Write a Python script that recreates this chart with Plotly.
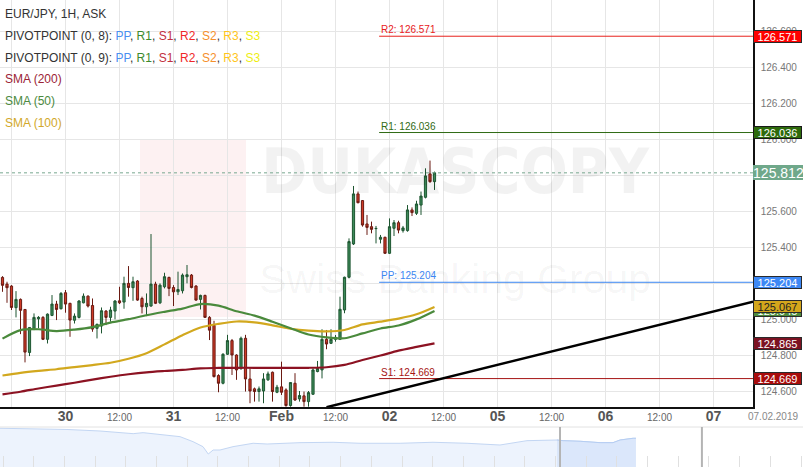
import plotly.graph_objects as go

# ---------------- DATA ----------------
# 1H EUR/JPY candles, x = hours from 30 Jan 00:00
candle_hours = list(range(-14, 83))
opens = [125.231, 125.194, 125.183, 125.063, 125.109, 125.053, 124.814, 124.948, 125.001, 125.009,
         124.887, 125.020, 125.083, 125.057, 125.146, 125.087, 124.993, 125.009, 125.090, 125.127,
         125.075, 124.948, 124.961, 125.044, 125.009, 125.044, 125.101, 125.094, 125.198, 125.174,
         125.211, 125.114, 125.068, 125.072, 125.194, 125.090, 125.179, 125.231, 125.175, 125.151,
         125.157, 125.235, 125.244, 125.183, 125.109, 125.131, 125.009, 124.965, 124.686, 124.643,
         124.804, 124.880, 124.800, 124.726, 124.893, 124.667, 124.612, 124.597, 124.600, 124.662,
         124.704, 124.593, 124.623, 124.606, 124.519, 124.643, 124.556, 124.573, 124.541, 124.582,
         124.708, 124.717, 124.887, 124.865, 124.887, 124.887, 125.050, 125.232, 125.417, 125.695,
         125.658, 125.528, 125.513, 125.502, 125.443, 125.454, 125.365, 125.504, 125.535, 125.491,
         125.491, 125.606, 125.587, 125.633, 125.676, 125.806, 125.763]
highs = [125.238, 125.207, 125.188, 125.155, 125.114, 125.053, 124.953, 125.031, 125.016, 125.016,
         125.031, 125.133, 125.101, 125.150, 125.161, 125.090, 125.031, 125.105, 125.142, 125.131,
         125.114, 124.975, 125.064, 125.050, 125.068, 125.105, 125.179, 125.235, 125.294, 125.235,
         125.216, 125.124, 125.142, 125.472, 125.207, 125.198, 125.257, 125.235, 125.188, 125.263,
         125.253, 125.300, 125.250, 125.188, 125.135, 125.135, 125.016, 124.990, 124.693, 124.810,
         124.912, 124.889, 124.804, 124.902, 124.912, 124.726, 124.619, 124.625, 124.699, 124.708,
         124.708, 124.634, 124.763, 124.615, 124.647, 124.699, 124.600, 124.597, 124.600, 124.726,
         124.767, 124.943, 124.939, 124.943, 124.911, 125.124, 125.235, 125.448, 125.739, 125.708,
         125.661, 125.578, 125.541, 125.517, 125.467, 125.457, 125.559, 125.550, 125.546, 125.517,
         125.633, 125.620, 125.657, 125.708, 125.837, 125.880, 125.819]
lows = [125.151, 125.090, 125.050, 125.009, 124.916, 124.759, 124.794, 124.938, 124.948, 124.883,
        124.864, 125.016, 124.994, 125.053, 125.035, 124.901, 124.975, 125.003, 125.087, 125.064,
        124.929, 124.892, 124.920, 124.966, 124.985, 124.998, 125.083, 125.057, 125.124, 125.101,
        125.101, 125.031, 125.016, 125.068, 125.083, 125.083, 125.170, 125.127, 125.072, 125.133,
        125.142, 125.198, 125.170, 125.101, 125.053, 125.009, 124.883, 124.675, 124.593, 124.637,
        124.800, 124.689, 124.662, 124.717, 124.597, 124.532, 124.541, 124.541, 124.532, 124.656,
        124.541, 124.588, 124.578, 124.513, 124.513, 124.545, 124.541, 124.513, 124.513, 124.578,
        124.704, 124.670, 124.832, 124.861, 124.874, 124.883, 125.032, 125.226, 125.411, 125.643,
        125.513, 125.467, 125.476, 125.420, 125.420, 125.361, 125.361, 125.461, 125.476, 125.480,
        125.485, 125.572, 125.578, 125.578, 125.670, 125.757, 125.717]
closes = [125.187, 125.174, 125.064, 125.109, 125.048, 124.816, 124.953, 125.009, 125.009, 124.887,
          125.027, 125.083, 125.053, 125.142, 125.083, 124.994, 125.016, 125.100, 125.127, 125.072,
          124.944, 124.970, 125.046, 125.009, 125.050, 125.100, 125.090, 125.198, 125.175, 125.207,
          125.105, 125.068, 125.087, 125.194, 125.087, 125.188, 125.235, 125.170, 125.151, 125.164,
          125.244, 125.246, 125.175, 125.105, 125.131, 125.009, 124.938, 124.680, 124.643, 124.804,
          124.880, 124.800, 124.717, 124.893, 124.667, 124.600, 124.597, 124.612, 124.667, 124.695,
          124.597, 124.621, 124.593, 124.519, 124.647, 124.550, 124.575, 124.541, 124.591, 124.717,
          124.726, 124.887, 124.861, 124.887, 124.898, 125.054, 125.232, 125.430, 125.695, 125.646,
          125.522, 125.509, 125.498, 125.503, 125.454, 125.365, 125.513, 125.535, 125.494, 125.506,
          125.606, 125.591, 125.639, 125.683, 125.795, 125.763, 125.812]

# moving averages, sampled every 4 hours
sma_hours = list(range(-14, 83, 4))
sma200 = [124.581, 124.596, 124.614, 124.630, 124.646, 124.663, 124.679, 124.693, 124.704, 124.711,
          124.717, 124.726, 124.728, 124.729, 124.729, 124.729, 124.729, 124.729, 124.732, 124.745,
          124.772, 124.797, 124.824, 124.845, 124.865]
sma50 = [124.891, 124.938, 124.943, 124.933, 124.941, 124.955, 124.980, 124.999, 125.021, 125.040,
         125.058, 125.083, 125.074, 125.043, 125.019, 124.985, 124.949, 124.914, 124.898, 124.893,
         124.920, 124.947, 124.964, 124.998, 125.045]
sma100 = [124.686, 124.701, 124.712, 124.721, 124.733, 124.744, 124.757, 124.779, 124.810, 124.859,
          124.910, 124.953, 124.973, 124.986, 124.981, 124.965, 124.946, 124.935, 124.931, 124.939,
          124.970, 124.985, 125.002, 125.026, 125.067]

# pivot points of the new session
pivot_start_hour = 69.7
pivot_names = ["R2", "R1", "PP", "S1"]
pivot_values = [126.571, 126.036, 125.204, 124.669]
pivot_colors = ["#e8201c", "#2f6a14", "#3b86f2", "#a51414"]

last_price = 125.812
trend_hours = [58.0, 152.8]
trend_values = [124.51, 125.096]

x_tick_hours = [-12, 0, 12, 24, 36, 48, 60, 72, 84, 96, 108, 120, 132, 144]
x_tick_labels = ["12:00", "30", "12:00", "31", "12:00", "Feb", "12:00", "02",
                 "12:00", "05", "12:00", "06", "12:00", "07"]
y_ticks = [124.6, 124.8, 125.0, 125.2, 125.4, 125.6, 125.8, 126.0, 126.2, 126.4, 126.6]

# navigator (longer history), x = days from 30 Jan
nav_days = [-28.20, -25.73, -24.90, -23.27, -21.64, -21.15, -19.97, -19.33, -18.69, -18.20,
            -17.94, -17.70, -17.36, -16.72, -15.73, -15.04, -13.42, -11.79, -10.46, -8.49,
            -6.87, -5.19, -3.57, -3.07, -2.24, -0.76, -0.46, 0.38, 1.36, 2.00, 2.35, 2.99, 3.13]
nav_values = [127.76, 127.70, 127.58, 127.35, 126.95, 127.10, 126.75, 126.50, 125.75, 125.00,
              123.90, 124.50, 124.50, 125.00, 125.51, 125.40, 125.60, 125.66, 125.51, 125.51,
              125.66, 125.51, 125.25, 125.51, 125.90, 126.00, 125.90, 125.81, 125.60, 125.60,
              126.00, 126.26, 126.26]
nav_window = [-0.61, 6.38]

# ---------------- FIGURE ----------------
W, H = 803, 467
px_right = 753
px_bottom = 407
x_dom_right = px_right / W
y_dom_bottom = (H - px_bottom) / H
nav_dom_top = 40 / H
x_range = [-65.5 / 4.5, (px_right - 65.5) / 4.5]
y_range = [126.4 - (px_bottom - 67) / 180, 126.4 + 67 / 180]

fig = go.Figure()

# faint watermark (semi-transparent so that marks show through)
fig.add_trace(go.Scatter(x=[86.6], y=[125.785], mode="text", text=["DUKASCOPY"],
                         textfont=dict(family="DejaVu Sans Condensed, DejaVu Sans", size=62,
                                       color="rgba(0,0,0,0.05)", weight="bold"),
                         hoverinfo="skip", xaxis="x", yaxis="y"))
fig.add_trace(go.Scatter(x=[86.6], y=[125.20], mode="text", text=["Swiss Banking Group"],
                         textfont=dict(family="Liberation Sans, Arial", size=41,
                                       color="rgba(0,0,0,0.045)"),
                         hoverinfo="skip", xaxis="x", yaxis="y"))

fig.add_trace(go.Candlestick(
    x=candle_hours, open=opens, high=highs, low=lows, close=closes,
    increasing=dict(line=dict(color="#1d5530", width=1), fillcolor="#3d8a5a"),
    decreasing=dict(line=dict(color="#6a1a12", width=1), fillcolor="#cf3a26"),
    whiskerwidth=0, hoverinfo="skip", xaxis="x", yaxis="y"))

for vals, col in [(sma200, "#8c1222"), (sma100, "#d2a81e"), (sma50, "#4a8a3c")]:
    fig.add_trace(go.Scatter(x=sma_hours, y=vals, mode="lines",
                             line=dict(color=col, width=2.2, shape="spline", smoothing=0.8),
                             hoverinfo="skip", xaxis="x", yaxis="y"))

# current price dashed line
fig.add_trace(go.Scatter(x=[x_range[0], x_range[1]], y=[last_price, last_price], mode="lines",
                         line=dict(color="#78a890", width=1, dash="3px,3px"),
                         hoverinfo="skip", xaxis="x", yaxis="y"))

# pivot lines
for name, val, col in zip(pivot_names, pivot_values, pivot_colors):
    fig.add_trace(go.Scatter(x=[pivot_start_hour, x_range[1]], y=[val, val], mode="lines",
                             line=dict(color=col, width=1), hoverinfo="skip", xaxis="x", yaxis="y"))

# trend line
fig.add_trace(go.Scatter(x=trend_hours, y=trend_values, mode="lines",
                         line=dict(color="#000000", width=2.5), hoverinfo="skip",
                         xaxis="x", yaxis="y", cliponaxis=True))

# navigator
fig.add_trace(go.Scatter(x=nav_days, y=nav_values, mode="lines", fill="tozeroy",
                         fillcolor="#edf3fd", line=dict(color="#c3d6f3", width=1),
                         hoverinfo="skip", xaxis="x2", yaxis="y2"))
sel_d = [d for d in nav_days if d >= nav_window[0] - 0.2]
sel_v = nav_values[len(nav_days) - len(sel_d):]
fig.add_trace(go.Scatter(x=sel_d, y=sel_v, mode="lines", fill="tozeroy",
                         fillcolor="#dbe7fb", line=dict(color="#b5cdf2", width=1),
                         hoverinfo="skip", xaxis="x2", yaxis="y2"))

annotations = []
# header legend
hdr_font = dict(family="Liberation Sans, Arial", size=12, color="#333")
pivot_txt = ("<span style='color:#4a8ff0'>PP</span>, <span style='color:#3c8a2c'>R1</span>, "
             "<span style='color:#c23040'>S1</span>, <span style='color:#f02828'>R2</span>, "
             "<span style='color:#f5902c'>S2</span>, <span style='color:#ffc51a'>R3</span>, "
             "<span style='color:#eeee10'>S3</span>")
header = [
    ("EUR/JPY, 1H, ASK", 14),
    ("PIVOTPOINT (0, 8): " + pivot_txt, 36),
    ("PIVOTPOINT (0, 9): " + pivot_txt, 58),
    ("<span style='color:#9b2436'>SMA (200)</span>", 79),
    ("<span style='color:#4c8a3e'>SMA (50)</span>", 101),
    ("<span style='color:#d2a82a'>SMA (100)</span>", 123),
]
for txt, ypx in header:
    annotations.append(dict(x=3 / W, y=1 - ypx / H, xref="paper", yref="paper", text=txt,
                            showarrow=False, xanchor="left", yanchor="middle", font=hdr_font))

# pivot labels
for name, val, col in zip(pivot_names, pivot_values, pivot_colors):
    annotations.append(dict(x=pivot_start_hour, y=val, xref="x", yref="y",
                            text=f"{name}: {val:.3f}", showarrow=False, xanchor="left",
                            yanchor="bottom", yshift=-1,
                            font=dict(family="Liberation Sans, Arial", size=10, color=col)))

# right side value boxes
boxes = [
    (126.571, "#ff0000", "#ffffff", "#2a2a2a"),
    (126.036, "#2d6a0c", "#ffffff", "#1a1a1a"),
    (125.204, "#3d88f5", "#ffffff", "#2a2a2a"),
    (125.045, "#4c8a3c", "#ffffff", "#2a2a2a"),
    (125.067, "#d4a61c", "#222222", "#2a2a2a"),
    (124.865, "#7c1222", "#ffffff", "#2a2a2a"),
    (124.669, "#a80c0c", "#ffffff", "#2a2a2a"),
]
for val, bg, fc, bc in boxes:
    annotations.append(dict(x=x_dom_right, y=val, xref="paper", yref="y", text=f"{val:.3f}",
                            showarrow=False, xanchor="left", yanchor="middle", bgcolor=bg,
                            bordercolor=bc, borderwidth=1, borderpad=0, width=47, height=11,
                            font=dict(family="Liberation Sans, Arial", size=11, color=fc)))
annotations.append(dict(x=x_dom_right, y=last_price, xref="paper", yref="y",
                        text=f"{last_price:.3f}", showarrow=False, xanchor="left",
                        yanchor="middle", bgcolor="#6fa88a", borderwidth=0, borderpad=0,
                        width=51, height=15,
                        font=dict(family="Liberation Sans, Arial", size=14, color="#ffffff")))
annotations.append(dict(x=1 - 3 / W, y=1 - 416 / H, xref="paper", yref="paper",
                        text="07.02.2019", showarrow=False, xanchor="right", yanchor="middle",
                        font=dict(family="Liberation Sans, Arial", size=10, color="#888")))

day_style = "<span style='font-size:14px;color:#555'><b>{}</b></span>"
ticktext = [t if ":" in t else day_style.format(t) for t in x_tick_labels]

shapes = [
    # logo block (faint)
    dict(type="rect", xref="paper", yref="paper", x0=140 / W, x1=246 / W,
         y0=1 - 317 / H, y1=1 - 140 / H, fillcolor="#fdf1f2", line=dict(width=0), layer="below"),
    # navigator frame and handles
    dict(type="line", xref="paper", yref="paper", x0=0, x1=1, y0=nav_dom_top, y1=nav_dom_top,
         line=dict(color="#e2e2e2", width=1)),
]
for d in nav_window:
    shapes.append(dict(type="line", xref="x2", yref="paper", x0=d, x1=d, y0=0, y1=nav_dom_top,
                       line=dict(color="#b4b4b4", width=2)))

fig.update_layout(
    width=W, height=H, margin=dict(l=0, r=0, t=0, b=0, autoexpand=False),
    paper_bgcolor="white", plot_bgcolor="white", showlegend=False,
    font=dict(family="Liberation Sans, Arial, sans-serif", size=10, color="#666"),
    xaxis=dict(domain=[0, x_dom_right], range=x_range, tickvals=x_tick_hours, ticktext=ticktext,
               showgrid=True, gridcolor="#e6e6e6", gridwidth=1, showline=True, linecolor="#111",
               linewidth=1.5, zeroline=False, ticks="", rangeslider=dict(visible=False),
               tickfont=dict(size=10, color="#666"), anchor="y", fixedrange=True,
               automargin=False),
    yaxis=dict(domain=[y_dom_bottom, 1], range=y_range, side="right", tickvals=y_ticks,
               ticktext=[f"{v:.3f}" for v in y_ticks], showgrid=True, gridcolor="#e6e6e6",
               showline=True, linecolor="#111", linewidth=1.5, zeroline=False, ticks="",
               ticklabelstandoff=4, tickfont=dict(size=10, color="#777"), anchor="x",
               fixedrange=True, automargin=False),
    xaxis2=dict(domain=[0, 1], range=[-28.2, 11.36], anchor="y2", showgrid=False,
                showticklabels=False, ticks="inside", ticklen=11, tickcolor="#e0e0e0",
                tick0=-28.05, dtick=1.512, zeroline=False, showline=False, fixedrange=True),
    yaxis2=dict(domain=[0, nav_dom_top], range=[121.95, 127.95], anchor="x2", visible=False,
                fixedrange=True),
    annotations=annotations, shapes=shapes,
)

fig.write_html("out.html", config={"displayModeBar": False},
               post_script="document.body.style.margin='0';document.body.style.padding='0';")
